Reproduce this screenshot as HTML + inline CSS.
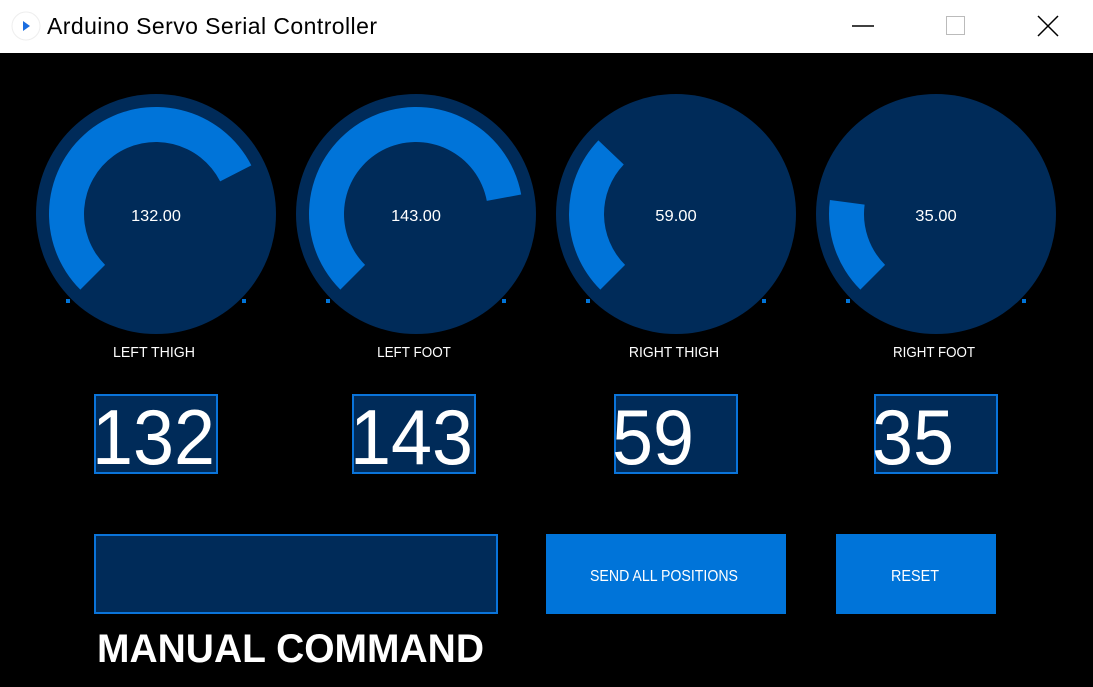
<!DOCTYPE html>
<html><head><meta charset="utf-8"><style>
html,body{margin:0;padding:0;width:1093px;height:687px;overflow:hidden;background:#000;font-family:"Liberation Sans",sans-serif}
#titlebar{position:absolute;left:0;top:0;width:1093px;height:53px;background:#fff;border-bottom:1px solid #000}
</style></head><body>
<div id="titlebar">
<svg width="1093" height="53">
<circle cx="26" cy="26" r="14" fill="#fff" stroke="#eee"/>
<polygon points="23,21 30,26 23,31" fill="#1a6de0"/>
<text x="47" y="34" font-size="23" textLength="330" fill="#000" font-family="Liberation Sans, DejaVu Sans, sans-serif">Arduino Servo Serial Controller</text>
<line x1="852" y1="26" x2="874" y2="26" stroke="#000" stroke-width="1.5"/>
<rect x="946.5" y="16.5" width="18" height="18" fill="none" stroke="#bbb"/>
<path d="M1038 16 L1058 36 M1058 16 L1038 36" stroke="#000" stroke-width="1.5"/>
</svg></div>
<svg id="main" width="1093" height="687" style="position:absolute;left:0;top:0;pointer-events:none"></svg>
<svg width="1093" height="687" style="position:absolute;left:0;top:0">
<rect x="95" y="535" width="402" height="78" fill="#002b59" stroke="#0a74da" stroke-width="2"/>
<text x="97" y="662" font-size="40" font-weight="bold" fill="#fff" textLength="387" lengthAdjust="spacingAndGlyphs">MANUAL COMMAND</text>
<rect x="546" y="534" width="240" height="80" fill="#0074d9"/>
<text x="590" y="581" font-size="16" fill="#fff" textLength="148" lengthAdjust="spacingAndGlyphs">SEND ALL POSITIONS</text>
<rect x="836" y="534" width="160" height="80" fill="#0074d9"/>
<text x="891" y="581" font-size="16" fill="#fff" textLength="48" lengthAdjust="spacingAndGlyphs">RESET</text>
</svg>
<script>
const names=["LEFT THIGH","LEFT FOOT","RIGHT THIGH","RIGHT FOOT"];
const values=[132,143,59,35];
const maxValue=180;
const NS="http://www.w3.org/2000/svg";
const svg=document.getElementById('main');
function mk(tag,attrs){const e=document.createElementNS(NS,tag);for(const k in attrs)e.setAttribute(k,attrs[k]);svg.appendChild(e);return e;}
function angleOf(v){return (135+v/maxValue*270)*Math.PI/180;}
function pt(cx,cy,r,a){return [cx+r*Math.cos(a),cy+r*Math.sin(a)];}
const boxX=[94,352,614,874];
values.forEach((v,i)=>{
  const cx=156+i*260,cy=214;
  const c=mk('circle',{cx:cx,cy:cy,r:120,fill:'#002b59'});
  
  
  const a0=angleOf(0),a1=angleOf(v),ro=107,ri=72;
  const large=(a1-a0)>Math.PI?1:0;
  const p1=pt(cx,cy,ro,a0),p2=pt(cx,cy,ro,a1),p3=pt(cx,cy,ri,a1),p4=pt(cx,cy,ri,a0);
  const arc=mk('path',{d:`M${p1} A${ro},${ro} 0 ${large} 1 ${p2} L${p3} A${ri},${ri} 0 ${large} 0 ${p4} Z`,fill:'#0074d9'});
  
  
  [-88,88].forEach(dx=>{
    const d=mk('rect',{x:cx+dx-2,y:299,width:4,height:4,fill:'#0074d9'});
    
    
  });
  const s=v.toFixed(2);
  const t=mk('text',{x:cx,y:cy+7,'font-size':16,fill:'#fff','text-anchor':'middle',textLength:s.length*8.3,lengthAdjust:'spacingAndGlyphs'});
  t.textContent=s;
  
  
  const l=mk('text',{x:cx-2,y:357,'font-size':15,fill:'#fff','text-anchor':'middle',textLength:names[i].length*8.2,lengthAdjust:'spacingAndGlyphs'});
  l.textContent=names[i];
  
  
  const b=mk('rect',{x:boxX[i]+1,y:395,width:122,height:78,fill:'#002b59',stroke:'#0a74da','stroke-width':2});
  
  
  const ns=String(v);
  const n=mk('text',{x:boxX[i]-2,y:464,'font-size':78,fill:'#fff',textLength:ns.length*41,lengthAdjust:'spacingAndGlyphs'});
  n.textContent=ns;
  
  
});
</script>
</body></html>
